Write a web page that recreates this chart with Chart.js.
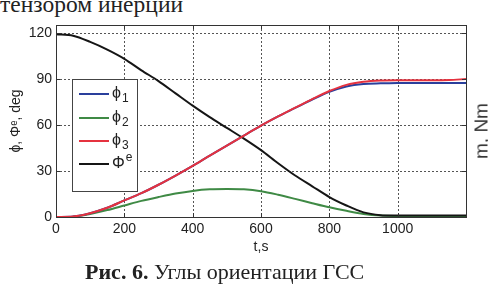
<!DOCTYPE html>
<html lang="ru">
<head>
    <meta charset="UTF-8">
    <title>Углы ориентации ГСС</title>
    <style>
        html, body { margin: 0; padding: 0; background: #fff; }
        body { width: 488px; height: 286px; position: relative; overflow: hidden; }
        #chart { position: absolute; left: 0; top: 0; }
        .top-text { position: absolute; left: 0; top: -8px; font: 23.5px/24px "Liberation Serif", serif; color: #222; white-space: nowrap; }
        .caption { position: absolute; left: 85px; top: 261px; font: 22px/21px "Liberation Serif", serif; color: #222; white-space: nowrap; }
        .caption b { font-weight: bold; }
        .right-title { position: absolute; left: 481px; top: 131px; transform: translate(-50%, -50%) rotate(-90deg); font: 19px/19px "Liberation Sans", Arial, sans-serif; color: #333; white-space: nowrap; }
    </style>
</head>
<body>
    <div class="top-text">тензором инерции</div>
    <canvas id="chart" width="488" height="286"></canvas>
    <div class="right-title">m, Nm</div>
    <div class="caption"><b>Рис. 6.</b> Углы ориентации ГСС</div>

    <script src="https://cdn.jsdelivr.net/npm/chart.js"></script>
    <script>
        // time, s
        const times = [0, 50, 100, 150, 200, 250, 300, 350, 400, 450, 500, 550, 600,
                       650, 700, 750, 800, 850, 900, 950, 1000, 1050, 1100, 1150, 1200];
        // angles, deg
        const phi1 = [0, 0.3, 2.5, 6, 10.8, 15.5, 21, 27, 33.3, 40, 46.5, 53, 59.5,
                      65.5, 71, 76.5, 81.5, 85, 86.6, 87, 87.2, 87.2, 87.2, 87.3, 87.3];
        const phi2 = [0, 0.2, 2, 4.5, 7.5, 10.5, 13, 15.3, 17, 18, 18.2, 18, 16.8,
                      14.5, 11.8, 9, 6.3, 4, 2, 0.9, 0.6, 0.5, 0.5, 0.5, 0.5];
        const phi3 = [0, 0.3, 2.5, 6, 10.8, 15.5, 21, 27, 33.3, 40, 46.5, 53, 59.5,
                      65.5, 71.2, 76.8, 82, 86, 88, 88.8, 89, 89, 89, 89.2, 89.8];
        const phiE = [119, 118, 114, 109, 103, 95.5, 88.5, 80.5, 72.5, 65, 58, 51, 43.5,
                      35, 27, 20, 13, 7.5, 3, 1.2, 1, 1, 1, 1, 1];
        const seriesNames = ['ϕ₁', 'ϕ₂', 'ϕ₃', 'Φᵉ'];
        const legendBase = ['ϕ', 'ϕ', 'ϕ', 'Φ'];
        const legendScript = ['1', '2', '3', 'e'];
        const seriesColors = ['#2a3f9c', '#3f8a45', '#e5323f', '#151515'];
        const drawOrder = [2, 3, 0, 1]; // red above blue, black above green
        const xTicks = [0, 200, 400, 600, 800, 1000];
        const yTicks = [0, 30, 60, 90, 120];

        const font = '"Liberation Sans", Arial, sans-serif';

        function toPoints(ys) {
            return ys.map((y, i) => ({ x: times[i], y: y }));
        }

        // dotted grid under the lines
        const gridPlugin = {
            id: 'dottedGrid',
            beforeDatasetsDraw(chart) {
                const ctx = chart.ctx;
                const a = chart.chartArea;
                const xs = chart.scales.x, ys = chart.scales.y;
                ctx.save();
                ctx.strokeStyle = '#555';
                ctx.lineWidth = 1;
                ctx.setLineDash([2, 2]);
                ctx.beginPath();
                xTicks.filter(v => v > 0).forEach(v => {
                    const px = Math.round(xs.getPixelForValue(v)) + 0.5;
                    ctx.moveTo(px, a.top); ctx.lineTo(px, a.bottom);
                });
                yTicks.filter(v => v > 0).forEach(v => {
                    const py = Math.round(ys.getPixelForValue(v)) + 0.5;
                    ctx.moveTo(a.left, py); ctx.lineTo(a.right, py);
                });
                ctx.stroke();
                ctx.restore();
            }
        };

        // frame, inward tick marks and the legend box
        const framePlugin = {
            id: 'frame',
            afterDraw(chart) {
                const ctx = chart.ctx;
                const a = chart.chartArea;
                const xs = chart.scales.x, ys = chart.scales.y;
                ctx.save();
                ctx.strokeStyle = '#333';
                ctx.lineWidth = 1;
                ctx.beginPath();
                xTicks.concat([1200]).forEach(v => {
                    const px = Math.round(xs.getPixelForValue(v)) + 0.5;
                    ctx.moveTo(px, a.bottom); ctx.lineTo(px, a.bottom - 4);
                    ctx.moveTo(px, a.top); ctx.lineTo(px, a.top + 4);
                });
                yTicks.forEach(v => {
                    const py = Math.round(ys.getPixelForValue(v)) + 0.5;
                    ctx.moveTo(a.left, py); ctx.lineTo(a.left + 4, py);
                    ctx.moveTo(a.right, py); ctx.lineTo(a.right - 4, py);
                });
                ctx.stroke();
                ctx.strokeRect(Math.round(a.left) + 0.5, Math.round(a.top) + 0.5,
                               Math.round(a.right - a.left), Math.round(a.bottom - a.top));

                // legend
                const bx = 72.5, by = 79.5, bw = 65, bh = 112;
                ctx.fillStyle = '#fff';
                ctx.fillRect(bx, by, bw, bh);
                ctx.strokeStyle = '#444';
                ctx.strokeRect(bx, by, bw, bh);
                const rows = [94, 118, 141, 164];
                ctx.textBaseline = 'middle';
                chart.data.datasets.forEach((ds, i) => {
                    ctx.strokeStyle = ds.borderColor;
                    ctx.lineWidth = 2;
                    ctx.beginPath();
                    ctx.moveTo(79, rows[i]);
                    ctx.lineTo(109, rows[i]);
                    ctx.stroke();
                    ctx.fillStyle = '#222';
                    ctx.font = '16px ' + font;
                    ctx.fillText(legendBase[i], 112, rows[i]);
                    const w = ctx.measureText(legendBase[i]).width;
                    ctx.font = '12px ' + font;
                    const shift = legendScript[i] === 'e' ? -6 : 5;
                    ctx.fillText(legendScript[i], 112 + w + 1, rows[i] + shift);
                });
                ctx.restore();
            }
        };

        new Chart(document.getElementById('chart'), {
            type: 'line',
            data: {
                datasets: [phi1, phi2, phi3, phiE].map((s, i) => ({
                    label: seriesNames[i],
                    data: toPoints(s),
                    borderColor: seriesColors[i],
                    borderWidth: 2,
                    pointRadius: 0,
                    tension: 0.3,
                    order: drawOrder[i],
                    fill: false
                }))
            },
            options: {
                responsive: false,
                animation: false,
                devicePixelRatio: 1,
                layout: { padding: { left: 0, top: 25, right: 22, bottom: 30 } },
                plugins: { legend: { display: false }, tooltip: { enabled: false } },
                scales: {
                    x: {
                        type: 'linear',
                        min: 0,
                        max: 1200,
                        afterFit(scale) { scale.height = 39; },
                        afterBuildTicks(scale) { scale.ticks = xTicks.map(v => ({ value: v })); },
                        ticks: { color: '#222', padding: 4, font: { family: font, size: 14 }, maxRotation: 0,
                                 callback: v => String(v) },
                        grid: { display: false, drawTicks: false },
                        border: { display: false },
                        title: { display: true, text: 't,s', color: '#222', font: { family: font, size: 14 }, padding: { top: 0, bottom: 0 } }
                    },
                    y: {
                        min: 0,
                        max: 125,
                        afterFit(scale) { scale.width = 56; },
                        afterBuildTicks(scale) { scale.ticks = yTicks.map(v => ({ value: v })); },
                        ticks: { color: '#222', padding: 4, font: { family: font, size: 14 },
                                 callback: v => String(v) },
                        grid: { display: false, drawTicks: false },
                        border: { display: false },
                        title: { display: true, text: 'ϕ, Φᵉ, deg', color: '#222', font: { family: font, size: 14 }, padding: { top: 8, bottom: 0 } }
                    }
                }
            },
            plugins: [gridPlugin, framePlugin]
        });
    </script>
</body>
</html>
